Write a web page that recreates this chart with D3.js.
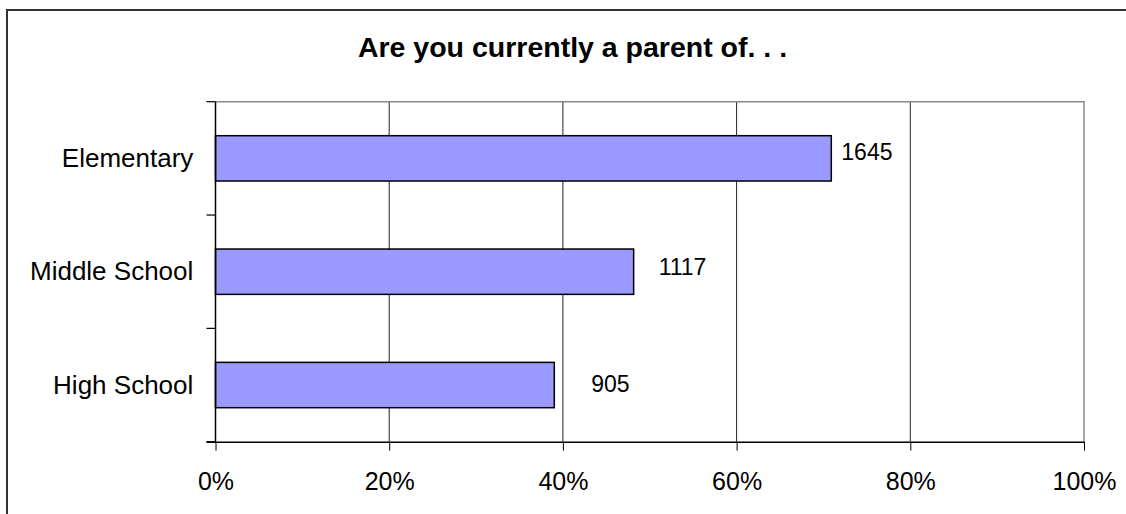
<!DOCTYPE html>
<html>
<head>
<meta charset="utf-8">
<script src="https://cdn.jsdelivr.net/npm/d3@7"></script>
<style>
  html, body { margin: 0; padding: 0; background: #fff; overflow: hidden; }
  svg { display: block; font-family: Arial, "Liberation Sans", sans-serif; }
</style>
</head>
<body>
<svg id="chart" width="1126" height="514"></svg>
<script>
// Survey responses: number of parents with a child at each school level
const categories = ["Elementary", "Middle School", "High School"];
const counts = [1645, 1117, 905];
const totalRespondents = 2320;
const tickValues = [0, 0.2, 0.4, 0.6, 0.8, 1.0];
const titleText = "Are you currently a parent of. . .";

// Value-label placement tweaks (pixels), one per bar
const labelNudge = [
  { dx: 10, dy: 1.7 },
  { dx: 25, dy: 2.8 },
  { dx: 37, dy: 6.8 }
];

const svg = d3.select("#chart");

// Chart frame (runs off the right and bottom edges)
svg.append("rect")
  .attr("x", 7).attr("y", 10)
  .attr("width", 1200).attr("height", 600)
  .attr("fill", "#fff")
  .attr("stroke", "#333").attr("stroke-width", 2);

const plot = { left: 215.5, right: 1084, top: 101.7, bottom: 441.7 };

const x = d3.scaleLinear().domain([0, 1]).range([plot.left, plot.right]);
const y = d3.scaleBand().domain(categories)
  .range([plot.top, plot.bottom])
  .paddingInner(0.6).paddingOuter(0.3);

// Title
svg.append("text")
  .attr("x", 572.5).attr("y", 57)
  .attr("text-anchor", "middle")
  .attr("font-weight", "bold")
  .attr("font-size", 28.5)
  .attr("fill", "#000")
  .text(titleText);

// Vertical gridlines
svg.append("g").selectAll("line")
  .data(tickValues.filter(d => d > 0 && d < 1))
  .join("line")
  .attr("x1", d => x(d)).attr("x2", d => x(d))
  .attr("y1", plot.top).attr("y2", plot.bottom)
  .attr("stroke", "#222").attr("stroke-width", 1);

// Plot area border (top and right)
svg.append("path")
  .attr("d", `M${plot.left},${plot.top}H${plot.right}V${plot.bottom}`)
  .attr("fill", "none")
  .attr("stroke", "#888").attr("stroke-width", 1.5);

// Bars
svg.append("g").selectAll("rect")
  .data(categories.map((c, i) => ({ c, v: counts[i] / totalRespondents })))
  .join("rect")
  .attr("x", x(0))
  .attr("y", d => y(d.c))
  .attr("width", d => x(d.v) - x(0))
  .attr("height", y.bandwidth())
  .attr("fill", "#9999ff")
  .attr("stroke", "#000").attr("stroke-width", 1.5);

// Value labels
svg.append("g").selectAll("text")
  .data(categories.map((c, i) => ({ c, n: counts[i], v: counts[i] / totalRespondents, k: labelNudge[i] })))
  .join("text")
  .attr("x", d => x(d.v) + d.k.dx)
  .attr("y", d => y(d.c) + y.bandwidth() / 2 + d.k.dy)
  .attr("font-size", 23)
  .attr("fill", "#000")
  .text(d => d.n);

// X axis
const xAxis = d3.axisBottom(x)
  .tickValues(tickValues)
  .tickFormat(d3.format(".0%"))
  .tickSize(9)
  .tickPadding(22);
const gx = svg.append("g")
  .attr("transform", `translate(0,${plot.bottom})`)
  .call(xAxis);
gx.select(".domain").attr("d", `M${plot.left - 9},0.5H${plot.right}`).attr("stroke", "#000").attr("stroke-width", 1.5);
gx.selectAll(".tick line").attr("stroke", "#000");
gx.selectAll(".tick text")
  .attr("font-size", 25)
  .attr("font-family", "Arial, 'Liberation Sans', sans-serif")
  .attr("fill", "#000");

// Y axis: line, ticks at category boundaries, labels at band centres
const gy = svg.append("g");
gy.append("line")
  .attr("x1", plot.left).attr("x2", plot.left)
  .attr("y1", plot.top).attr("y2", plot.bottom)
  .attr("stroke", "#000").attr("stroke-width", 1.5);
const boundaries = d3.range(categories.length + 1).map(i => plot.top + i * (plot.bottom - plot.top) / categories.length);
gy.selectAll(".ytick")
  .data(boundaries)
  .join("line")
  .attr("class", "ytick")
  .attr("x1", plot.left - 9).attr("x2", plot.left)
  .attr("y1", d => d).attr("y2", d => d)
  .attr("stroke", "#000").attr("stroke-width", 1.2);
gy.selectAll(".ylabel")
  .data(categories)
  .join("text")
  .attr("class", "ylabel")
  .attr("x", 193.3)
  .attr("y", d => y(d) + y.bandwidth() / 2 + 8.5)
  .attr("text-anchor", "end")
  .attr("font-size", 26)
  .attr("fill", "#000")
  .text(d => d);
</script>
</body>
</html>
